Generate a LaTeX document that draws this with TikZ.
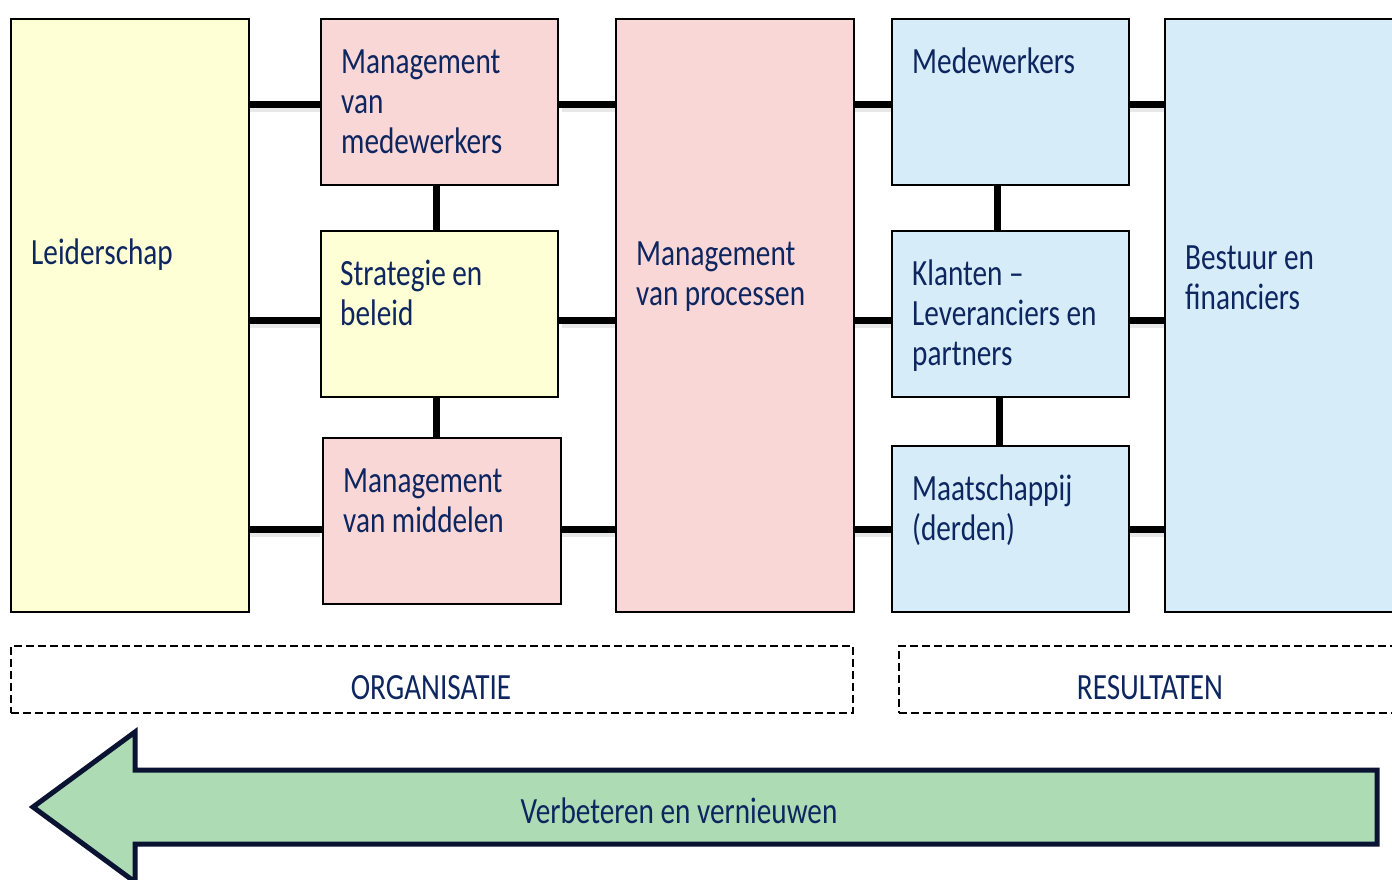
\documentclass[tikz,border=0pt]{standalone}
\usepackage{fontspec}
\setmainfont{Carlito}[FakeStretch=0.79]
\usetikzlibrary{calc}
\definecolor{ylw}{RGB}{255,255,213}
\definecolor{pnk}{RGB}{250,215,215}
\definecolor{blu}{RGB}{214,236,248}
\definecolor{grn}{RGB}{173,219,180}
\definecolor{navy}{RGB}{14,38,96}
\definecolor{arrowline}{RGB}{10,20,50}
\begin{document}
\begin{tikzpicture}[x=1pt,y=-1pt,
  box/.style={draw=black, line width=1.5pt, anchor=north west, inner sep=0pt, minimum width=238pt, minimum height=166pt},
  dbox/.style={draw=black, line width=1.8pt, dash pattern=on 8pt off 4pt, anchor=north west, inner sep=0pt, minimum height=67pt},
  txt/.style={text=navy, font=\fontsize{37}{40}\selectfont, align=left, anchor=base west, inner sep=0pt},
  conn/.style={line width=7pt, black},
  shad/.style={line width=4pt, black!9}]
\useasboundingbox (0,0) rectangle (1392,879);
\clip (0,0) rectangle (1392,879);
% boxes
\node[box, fill=ylw, minimum height=593pt] (lead) at (10,18) {};
\node[box, fill=pnk, minimum width=237pt] (mm) at (320,18) {};
\node[box, fill=ylw, minimum width=237pt] (sb) at (320,230) {};
\node[box, fill=pnk] (mid) at (322,437) {};
\node[box, fill=pnk, minimum height=593pt] (proc) at (615,18) {};
\node[box, fill=blu, minimum width=237pt] (med) at (891,18) {};
\node[box, fill=blu, minimum width=237pt] (kl) at (891,230) {};
\node[box, fill=blu, minimum width=237pt] (maat) at (891,445) {};
\node[box, fill=blu, minimum width=260pt, minimum height=593pt] (best) at (1164,18) {};
% connector levels
\coordinate (r1) at (0,104);
\coordinate (r2) at (0,320);
\coordinate (r3) at (0,529);
\coordinate (s1) at (0,110);
\coordinate (s2) at (0,326);
\coordinate (s3) at (0,535);
\coordinate (v1) at (436,0);
\coordinate (v2) at (997,0);
\coordinate (v3) at (999,0);
% shadows
\foreach \s in {s1,s2,s3}{
  \draw[shad] (lead.east |- \s) -- (mm.west |- \s);
  \draw[shad] (mid.east |- \s) -- (proc.west |- \s);
  \draw[shad] (proc.east |- \s) -- (med.west |- \s);
  \draw[shad] (med.east |- \s) -- (best.west |- \s);
}
% horizontal connectors
\draw[conn] (lead.east |- r1) -- (mm.west |- r1);
\draw[conn] (mm.east |- r1) -- (proc.west |- r1);
\draw[conn] (proc.east |- r1) -- (med.west |- r1);
\draw[conn] (med.east |- r1) -- (best.west |- r1);
\draw[conn] (lead.east |- r2) -- (sb.west |- r2);
\draw[conn] (sb.east |- r2) -- (proc.west |- r2);
\draw[conn] (proc.east |- r2) -- (kl.west |- r2);
\draw[conn] (kl.east |- r2) -- (best.west |- r2);
\draw[conn] (lead.east |- r3) -- (mid.west |- r3);
\draw[conn] (mid.east |- r3) -- (proc.west |- r3);
\draw[conn] (proc.east |- r3) -- (maat.west |- r3);
\draw[conn] (maat.east |- r3) -- (best.west |- r3);
% vertical connectors
\draw[conn] (mm.south -| v1) -- (sb.north -| v1);
\draw[conn] (sb.south -| v1) -- (mid.north -| v1);
\draw[conn] (med.south -| v2) -- (kl.north -| v2);
\draw[conn] (kl.south -| v3) -- (maat.north -| v3);
% texts (anchor = baseline of the last line)
\node[txt] (tlead) at ($(lead.north west)+(21,246)$) {Leiderschap};
\node[txt] (tmm) at ($(mm.north west)+(21,135)$) {Management\\van\\medewerkers};
\node[txt] (tsb) at ($(sb.north west)+(20,95)$) {Strategie en\\beleid};
\node[txt] (tmid) at ($(mid.north west)+(21,95)$) {Management\\van middelen};
\node[txt] (tproc) at ($(proc.north west)+(21,287)$) {Management\\van processen};
\node[txt] (tmed) at ($(med.north west)+(21,55)$) {Medewerkers};
\node[txt] (tkl) at ($(kl.north west)+(21,135)$) {Klanten –\\Leveranciers en\\partners};
\node[txt] (tmaat) at ($(maat.north west)+(21,95)$) {Maatschappij\\(derden)};
\node[txt] (tbest) at ($(best.north west)+(21,291)$) {Bestuur en\\financiers};
% dashed groups
\node[dbox, minimum width=842pt] (org) at (10,645) {};
\node[dbox, minimum width=540pt] (res) at (898,645) {};
\node[txt, anchor=base] (torg) at (431,699) {ORGANISATIE};
\node[txt, anchor=base] (tres) at (1150,699) {RESULTATEN};
% arrow
\draw[fill=grn, draw=arrowline, line width=5pt, line join=miter] (33,807) -- (135,732) -- (135,770) -- (1377,770) -- (1377,844) -- (135,844) -- (135,882) -- cycle;
\node[txt, anchor=base] (tarr) at (679,823) {Verbeteren en vernieuwen};
\end{tikzpicture}
\end{document}
